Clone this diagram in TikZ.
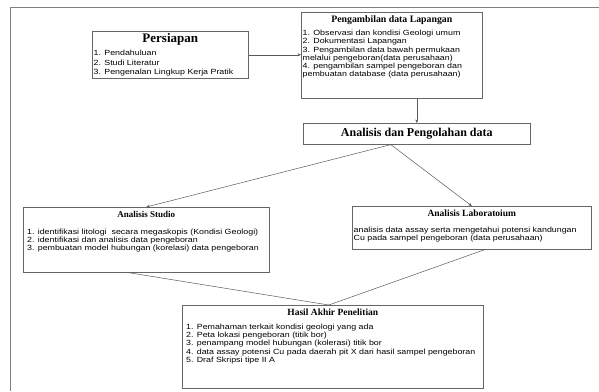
\documentclass[tikz,border=0pt]{standalone}
\usepackage{fontspec}
\usepackage{tikz}
\usetikzlibrary{arrows.meta,positioning}
\newfontfamily\titlefont{Liberation Serif}
\newfontfamily\bodyfont[FakeStretch=1.18]{Liberation Sans}

\begin{document}
\begin{tikzpicture}[
		x=1pt, y=-1pt,
		box/.style={rectangle, draw=gray!80!black, line width=0.6pt, anchor=north west, inner sep=0pt},
		heading/.style={font=\titlefont\bfseries\fontsize{#1}{#1}\selectfont, inner sep=1pt},
		heading/.default=9.5,
		items/.style={font=\bodyfont\fontsize{7.5}{8.3}\selectfont, align=left, inner sep=1pt, anchor=north west},
		arrow/.style={draw=gray!70!black, line width=0.5pt, -{Stealth[length=3.5pt,width=3pt]}},
		link/.style={draw=gray!70!black, line width=0.5pt}
	]
	\useasboundingbox (0,0) rectangle (599,391);

	% Frame
	\draw[gray, line width=0.7pt] (10,391) -- (10,7) -- (599,7);

	% Boxes
	\node (persiapan) [box, minimum width=156pt, minimum height=47pt] at (92,31) {};
	\node (lapangan) [box, minimum width=181pt, minimum height=86pt] at (301,12) {};
	\node (pengolahan) [box, minimum width=227pt, minimum height=21pt] at (303,123) {};
	\node (studio) [box, minimum width=246pt, minimum height=65pt] at (23,207) {};
	\node (lab) [box, minimum width=239pt, minimum height=43pt] at (352,206) {};
	\node (hasil) [box, minimum width=301pt, minimum height=83pt] at (182,305) {};

	% Texts
	\node (tPersiapan) [heading=13, below=1pt of persiapan.north] {Persiapan};
	\node (lPersiapan) [items, font=\bodyfont\fontsize{7.5}{9.2}\selectfont] at ([xshift=0.5pt,yshift=-3pt]persiapan.west |- tPersiapan.south) {1. Pendahuluan\\2. Studi Literatur\\3. Pengenalan Lingkup Kerja Pratik};

	\node (tLapangan) [heading=9.8, below=2.5pt of lapangan.north] {Pengambilan data Lapangan};
	\node (lLapangan) [items] at ([xshift=0.5pt,yshift=-3pt]lapangan.west |- tLapangan.south) {1. Observasi dan kondisi Geologi umum\\2. Dokumentasi Lapangan\\3. Pengambilan data bawah permukaan\\melalui pengeboran(data perusahaan)\\4. pengambilan sampel pengeboran dan\\pembuatan database (data perusahaan)};

	\node (tPengolahan) [heading=12] at (pengolahan.center) {Analisis dan Pengolahan data};

	\node (tStudio) [heading=9, below=3.5pt of studio.north] {Analisis Studio};
	\node (lStudio) [items] at ([xshift=3pt,yshift=-8.5pt]studio.west |- tStudio.south) {1. identifikasi litologi\ \ secara megaskopis (Kondisi Geologi)\\2. identifikasi dan analisis data pengeboran\\3. pembuatan model hubungan (korelasi) data pengeboran};

	\node (tLab) [heading, below=2.5pt of lab.north] {Analisis Laboratoium};
	\node (lLab) [items, font=\bodyfont\fontsize{7.5}{7.8}\selectfont] at ([xshift=0.5pt,yshift=-8pt]lab.west |- tLab.south) {analisis data assay serta mengetahui potensi kandungan\\Cu pada sampel pengeboran (data perusahaan)};

	\node (tHasil) [heading, below=3pt of hasil.north] {Hasil Akhir Penelitian};
	\node (lHasil) [items] at ([xshift=3pt,yshift=-5.5pt]hasil.west |- tHasil.south) {1. Pemahaman terkait kondisi geologi yang ada\\2. Peta lokasi pengeboran (titik bor)\\3. penampang model hubungan (kolerasi) titik bor\\4. data assay potensi Cu pada daerah pit X dari hasil sampel pengeboran\\5. Draf Skripsi tipe II A};

	% Connections
	\coordinate (split) at ([xshift=-26pt]pengolahan.south);
	\coordinate (merge) at ([xshift=-4pt]hasil.north);
	\draw [arrow] (persiapan.east) -- (persiapan.east -| lapangan.west);
	\draw [arrow] (lapangan.south -| pengolahan.north) -- (pengolahan.north);
	\draw [arrow] (split) -- (studio.north);
	\draw [arrow] (split) -- (lab.north);
	\draw [link] ([xshift=-18pt]studio.south) -- (merge);
	\draw [link] ([xshift=13pt]lab.south) -- (merge);

\end{tikzpicture}
\end{document}
